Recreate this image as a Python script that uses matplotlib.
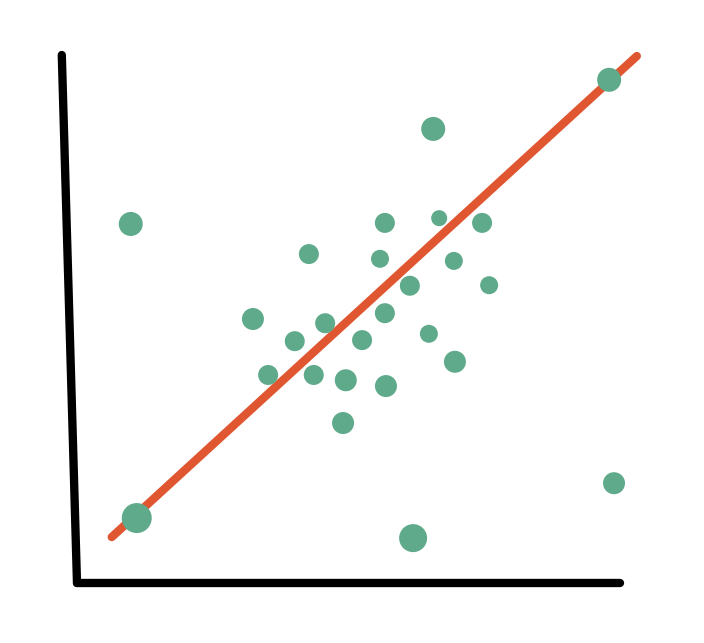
import matplotlib
matplotlib.use("Agg")
import matplotlib.pyplot as plt

# scatter points (arbitrary units, 0-10 on both axes)
xs = [0.99, 6.56, 9.80, 1.10, 6.19, 9.89, 5.67, 6.67, 7.46, 4.27, 5.58, 6.94, 6.13,
      7.59, 3.24, 4.57, 5.67, 4.01, 5.25, 6.48, 3.52, 4.36, 4.95, 5.69, 6.96, 4.90]
ys = [6.80, 8.60, 9.53, 1.23, 0.85, 1.89, 6.82, 6.91, 6.82, 6.23, 6.14, 6.10, 5.63,
      5.64, 5.00, 4.92, 5.11, 4.58, 4.60, 4.72, 3.94, 3.94, 3.84, 3.73, 4.19, 3.03]
# blob diameters in pixels
diam = [24, 24, 24, 30, 28, 22, 20, 16, 20, 20, 18, 18, 20,
        18, 22, 20, 20, 20, 20, 18, 20, 20, 22, 22, 22, 22]

# trend line ends
line_x = [0.64, 10.31]
line_y = [0.87, 9.98]

fig = plt.figure(figsize=(7.04, 6.43), dpi=100)
ax = fig.add_axes([77 / 704, 60 / 643, 543 / 704, 528 / 643])
ax.set_xlim(0, 10)
ax.set_ylim(0, 10)
ax.axis("off")

# hand drawn looking axes
ax.plot([-0.28, 0.0], [10.0, 0.0], color="black", lw=6, solid_capstyle="round", clip_on=False)
ax.plot([0.0, 10.0], [0.0, 0.0], color="black", lw=6, solid_capstyle="round", clip_on=False)

ax.plot(line_x, line_y, color="#DF5630", lw=6, solid_capstyle="round", clip_on=False, zorder=2)

sizes = [(d * 0.72) ** 2 for d in diam]
ax.scatter(xs, ys, s=sizes, color="#5EAA8B", edgecolors="none", zorder=3, clip_on=False)

fig.savefig("out.png", dpi=100)
